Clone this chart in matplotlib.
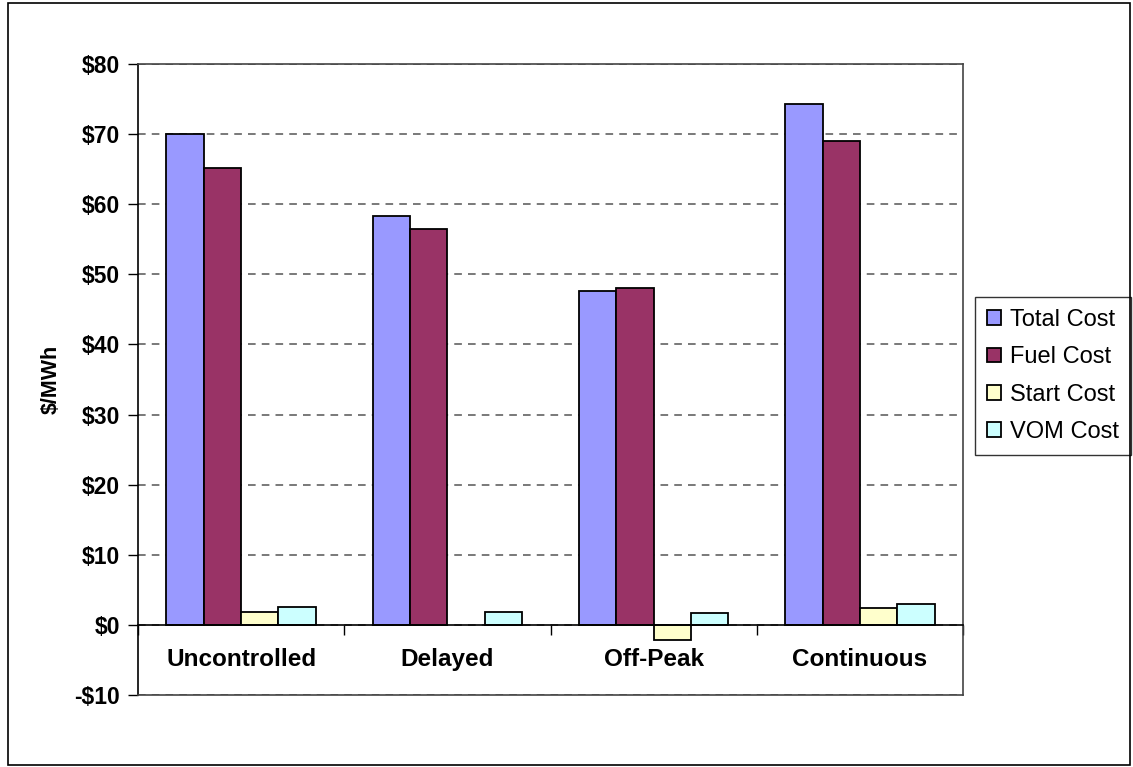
import matplotlib.pyplot as plt
import matplotlib.patches as mpatches
import numpy as np

plt.rcParams['font.family'] = ['Liberation Sans', 'DejaVu Sans']

# data ($/MWh)
categories = ["Uncontrolled", "Delayed", "Off-Peak", "Continuous"]
series = ["Total Cost", "Fuel Cost", "Start Cost", "VOM Cost"]
total_cost = [70.0, 58.3, 47.6, 74.3]
fuel_cost = [65.2, 56.4, 48.1, 69.0]
start_cost = [1.9, 0.0, -2.1, 2.4]
vom_cost = [2.6, 1.9, 1.7, 3.0]
farben = ["#9999FF", "#993366", "#FFFFCC", "#CCFFFF"]

fig = plt.figure(figsize=(11.33, 7.67), dpi=100)
ax = fig.add_axes([138 / 1133, 1 - 695 / 767, (963 - 138) / 1133, (695 - 64) / 767])

# outer chart frame
fig.patches.append(mpatches.Rectangle((8 / 1133, 2 / 767), 1122 / 1133, 762 / 767,
                                      transform=fig.transFigure, fill=False,
                                      edgecolor="black", linewidth=1.2))

x = np.arange(len(categories))
breite = 0.181
werte = [total_cost, fuel_cost, start_cost, vom_cost]
for i, (name, w) in enumerate(zip(series, werte)):
    pos = x + (i - 1.5) * breite
    hoehe = [v if v != 0 else np.nan for v in w]
    ax.bar(pos, hoehe, breite, color=farben[i], edgecolor="black",
           linewidth=1.3, label=name, zorder=3)

ax.set_xlim(-0.5, 3.5)
ax.set_ylim(-10, 80)
ax.set_yticks(np.arange(-10, 81, 10))
ax.set_yticklabels(["-$10" if v < 0 else "$%d" % v for v in range(-10, 81, 10)],
                   fontsize=16.5, fontweight="bold")
ax.yaxis.grid(True, linestyle=(0, (5, 4)), color="#555555", linewidth=1.1, zorder=0)
ax.tick_params(axis="y", direction="out", length=7, width=1, pad=6)

# category axis sits at zero
ax.spines["bottom"].set_position(("data", 0))
ax.spines["bottom"].set_linewidth(1.2)
ax.spines["bottom"].set_zorder(4)
ax.set_xticks(x)
ax.set_xticklabels([])
ax.set_xticks(np.arange(-0.5, 3.6, 1), minor=True)
ax.tick_params(axis="x", which="major", length=0)
ax.tick_params(axis="x", which="minor", direction="out", length=7, width=1)
for xi, name in zip(x, categories):
    ax.text(xi, -5, name, ha="center", va="center", fontsize=17.5, fontweight="bold")

# plot area border
for s in ["top", "right"]:
    ax.spines[s].set_color("#444444")
    ax.spines[s].set_linewidth(1.2)
ax.spines["left"].set_linewidth(1.2)
ax.plot([-0.5, 3.5], [-10, -10], color="#444444", linewidth=1.2, clip_on=False, zorder=5)
ax.spines["left"].set_bounds(-10, 80)

ax.set_ylabel("$/MWh", fontsize=15.5, fontweight="bold", labelpad=9)

leg = ax.legend(loc="center left", bbox_to_anchor=(975 / 1133, 1 - 376 / 767),
                bbox_transform=fig.transFigure, fontsize=17, frameon=True,
                fancybox=False, handlelength=0.6, handleheight=0.6,
                handletextpad=0.4, labelspacing=0.65, borderpad=0.5,
                borderaxespad=0)
leg.get_frame().set_edgecolor("black")
leg.get_frame().set_linewidth(1.0)

plt.savefig("out.png", dpi=100)
